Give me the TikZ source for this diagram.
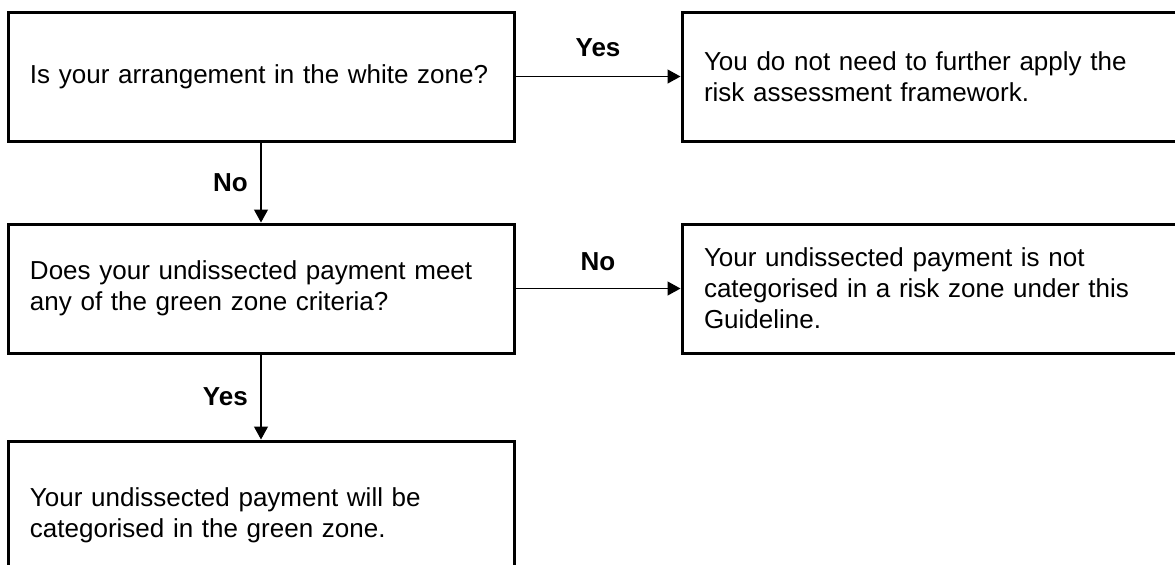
\documentclass[tikz,border=0pt]{standalone}
\usepackage{fontspec}
\setmainfont{Liberation Sans}
\usetikzlibrary{arrows.meta,positioning}

\begin{document}
\begin{tikzpicture}[x=0.5pt, y=-0.5pt,
    qbox/.style={rectangle, draw, line width=1.5pt, minimum width=253pt, minimum height=64.5pt,
                 text width=231pt, align=left, inner xsep=11pt,
                 font=\fontsize{13pt}{15.5pt}\selectfont},
    lbl/.style={font=\fontsize{13pt}{15.5pt}\selectfont\bfseries},
    flow/.style={-{Triangle[length=6.5pt, width=7pt]}, line width=0.6pt}]
    \clip (0,0) rectangle (1175,564);

    % Questions on the left
    \node[qbox] (white) at (261,76.5) {Is your arrangement in the white zone?};
    \node[qbox] (green) at (261,288.5) {Does your undissected payment meet\\any of the green zone criteria?};
    \node[qbox, minimum height=74pt] (inzone) at (261,515) {Your undissected payment will be\\categorised in the green zone.};

    % Outcomes on the right
    \node[qbox] (noneed) at (935,76.5) {You do not need to further apply the\\risk assessment framework.};
    \node[qbox] (nozone) at (935,288.5) {Your undissected payment is not\\categorised in a risk zone under this\\Guideline.};

    % Arrows
    \draw[flow] (white) -- node[lbl, above=6pt] {Yes} (noneed);
    \draw[flow] (white) -- node[lbl, left=3pt] {No} (green);
    \draw[flow] (green) -- node[lbl, above=5pt] {No} (nozone);
    \draw[flow] (green) -- node[lbl, left=3pt] {Yes} (inzone);
\end{tikzpicture}
\end{document}
